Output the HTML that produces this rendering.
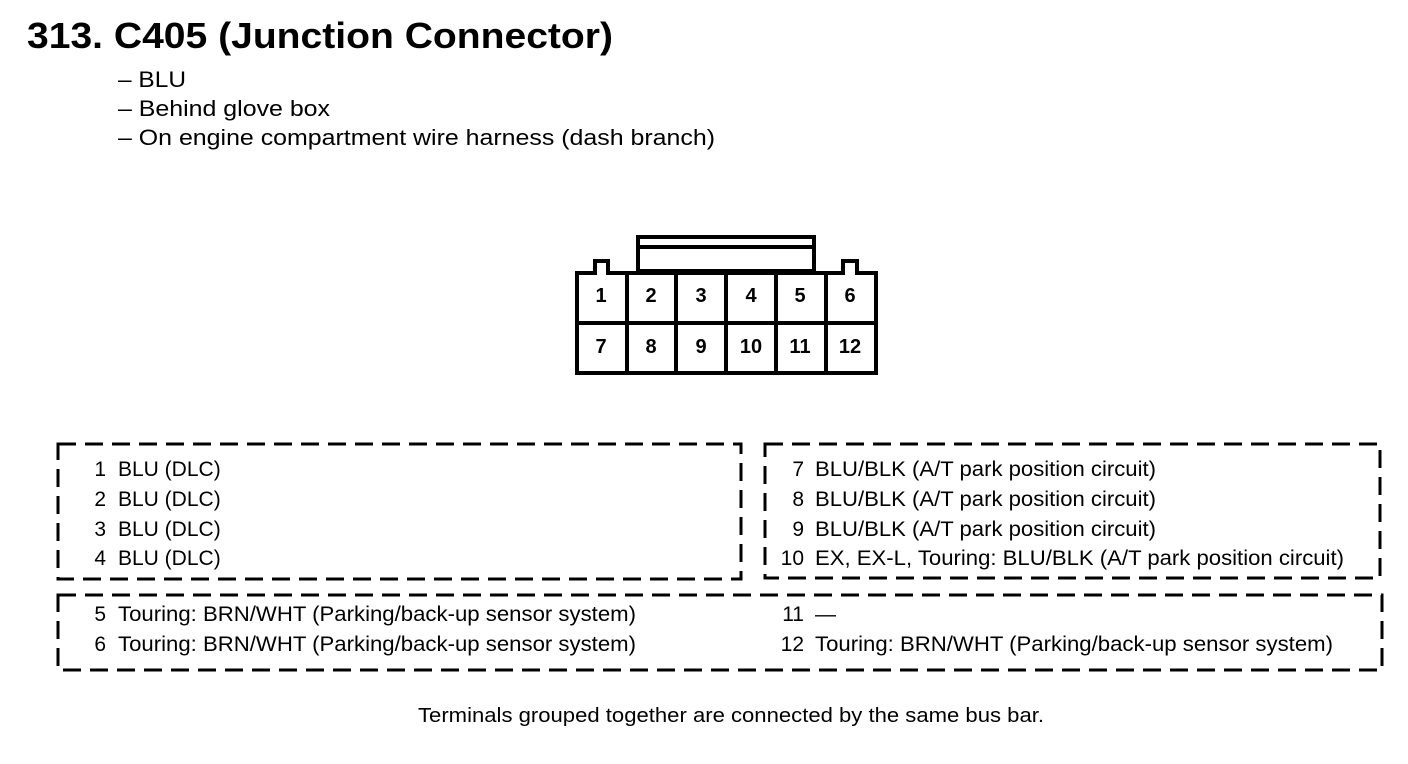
<!DOCTYPE html>
<html><head><meta charset="utf-8"><style>
html,body{margin:0;padding:0;background:#fff;}
svg{display:block;}
text{font-family:"Liberation Sans",Arial,sans-serif;fill:#000;}
</style></head><body>
<svg width="1408" height="764" viewBox="0 0 1408 764" xmlns="http://www.w3.org/2000/svg">
<text x="27" y="48" font-size="36" font-weight="bold" textLength="586" lengthAdjust="spacingAndGlyphs">313.  C405 (Junction Connector)</text>
<text x="118" y="87" font-size="22" textLength="68" lengthAdjust="spacingAndGlyphs">– BLU</text>
<text x="118" y="116" font-size="22" textLength="212" lengthAdjust="spacingAndGlyphs">– Behind glove box</text>
<text x="118" y="145" font-size="22" textLength="597" lengthAdjust="spacingAndGlyphs">– On engine compartment wire harness (dash branch)</text>

<g fill="none" stroke="#000" stroke-width="4">
<rect x="638" y="237" width="176" height="34"/>
<line x1="638" y1="247" x2="814" y2="247"/>
<path d="M577 373 V273 H595 V261 H608 V273 H843 V261 H857 V273 H876 V373 Z" fill="#fff"/>
<line x1="577" y1="323" x2="876" y2="323"/>
<line x1="627" y1="273" x2="627" y2="373"/>
<line x1="676" y1="273" x2="676" y2="373"/>
<line x1="726" y1="273" x2="726" y2="373"/>
<line x1="776" y1="273" x2="776" y2="373"/>
<line x1="826" y1="273" x2="826" y2="373"/>
</g>
<g font-size="20" font-weight="bold" text-anchor="middle">
<text x="601" y="302">1</text><text x="651" y="302">2</text><text x="701" y="302">3</text><text x="751" y="302">4</text><text x="800" y="302">5</text><text x="850" y="302">6</text>
<text x="601" y="353">7</text><text x="651" y="353">8</text><text x="701" y="353">9</text><text x="751" y="353">10</text><text x="800" y="353">11</text><text x="850" y="353">12</text>
</g>

<g fill="none" stroke="#000" stroke-width="3" stroke-dasharray="18 9">
<rect x="58" y="444" width="683" height="135"/>
<rect x="765" y="444" width="615" height="134"/>
<rect x="58" y="595" width="1324" height="75"/>
</g>

<g font-size="21">
<text x="106" y="476" text-anchor="end">1</text><text x="118" y="476">BLU (DLC)</text>
<text x="106" y="506" text-anchor="end">2</text><text x="118" y="506">BLU (DLC)</text>
<text x="106" y="536" text-anchor="end">3</text><text x="118" y="536">BLU (DLC)</text>
<text x="106" y="565" text-anchor="end">4</text><text x="118" y="565">BLU (DLC)</text>

<text x="804" y="476" text-anchor="end">7</text><text x="815" y="476" textLength="341" lengthAdjust="spacingAndGlyphs">BLU/BLK (A/T park position circuit)</text>
<text x="804" y="506" text-anchor="end">8</text><text x="815" y="506" textLength="341" lengthAdjust="spacingAndGlyphs">BLU/BLK (A/T park position circuit)</text>
<text x="804" y="536" text-anchor="end">9</text><text x="815" y="536" textLength="341" lengthAdjust="spacingAndGlyphs">BLU/BLK (A/T park position circuit)</text>
<text x="804" y="565" text-anchor="end">10</text><text x="815" y="565" textLength="529" lengthAdjust="spacingAndGlyphs">EX, EX-L, Touring: BLU/BLK (A/T park position circuit)</text>

<text x="106" y="621" text-anchor="end">5</text><text x="118" y="621" textLength="518" lengthAdjust="spacingAndGlyphs">Touring: BRN/WHT (Parking/back-up sensor system)</text>
<text x="106" y="651" text-anchor="end">6</text><text x="118" y="651" textLength="518" lengthAdjust="spacingAndGlyphs">Touring: BRN/WHT (Parking/back-up sensor system)</text>
<text x="804" y="621" text-anchor="end">11</text><text x="815" y="621">—</text>
<text x="804" y="651" text-anchor="end">12</text><text x="815" y="651" textLength="518" lengthAdjust="spacingAndGlyphs">Touring: BRN/WHT (Parking/back-up sensor system)</text>
</g>

<text x="418" y="722" font-size="20" textLength="626" lengthAdjust="spacingAndGlyphs">Terminals grouped together are connected by the same bus bar.</text>
</svg>
</body></html>
